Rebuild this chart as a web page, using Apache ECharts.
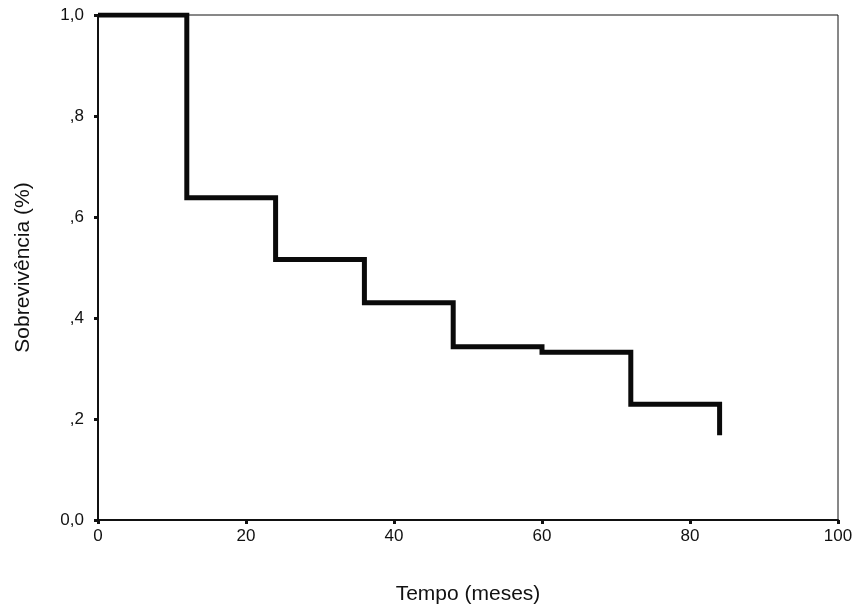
<!DOCTYPE html>
<html><head><meta charset="utf-8">
<script src="https://cdn.jsdelivr.net/npm/echarts@6/dist/echarts.min.js"></script>
<style>html,body{margin:0;padding:0;background:#fff}#c{width:856px;height:611px}</style>
</head><body><div id="c"></div>
<script>
var months = [0, 12, 24, 36, 48, 60, 72, 84];
var survival = [1.0, 0.638, 0.516, 0.43, 0.343, 0.332, 0.229, 0.168];
var yTickLabels = {"0":"0,0","0.2":",2","0.4":",4","0.6":",6","0.8":",8","1":"1,0"};
var xTitle = "Tempo (meses)";
var yTitle = "Sobrevivência (%)";

var chart = echarts.init(document.getElementById('c'), null, {renderer:'canvas'});
var data = months.map(function(m,i){return [m, survival[i]];});
chart.setOption({
  animation:false,
  backgroundColor:'#fff',
  grid:{left:98,right:18,top:15,bottom:91,show:true,borderColor:'#111',borderWidth:1,backgroundColor:'transparent'},
  xAxis:{type:'value',min:0,max:100,interval:20,
    name:xTitle,nameLocation:'middle',nameGap:64,
    nameTextStyle:{fontFamily:'Liberation Sans',fontSize:21,color:'#111'},
    axisLine:{show:true,lineStyle:{color:'#111',width:2}},
    axisTick:{show:true,length:4,lineStyle:{color:'#111',width:3}},
    axisLabel:{fontFamily:'Liberation Sans',fontSize:17,color:'#111',margin:8},
    splitLine:{show:false}},
  yAxis:{type:'value',min:0,max:1,interval:0.2,
    name:yTitle,nameLocation:'middle',nameGap:64,
    nameTextStyle:{fontFamily:'Liberation Sans',fontSize:21,color:'#111'},
    axisLine:{show:true,lineStyle:{color:'#111',width:2}},
    axisTick:{show:true,length:4,lineStyle:{color:'#111',width:3}},
    axisLabel:{fontFamily:'Liberation Sans',fontSize:17,color:'#111',margin:14,
      formatter:function(v){var k=String(Math.round(v*10)/10);return yTickLabels[k]!==undefined?yTickLabels[k]:k;}},
    splitLine:{show:false}},
  series:[{type:'line',step:'end',data:data,symbol:'none',
    lineStyle:{color:'#0a0a0a',width:5,join:'miter',cap:'butt'}}]
});
</script></body></html>
